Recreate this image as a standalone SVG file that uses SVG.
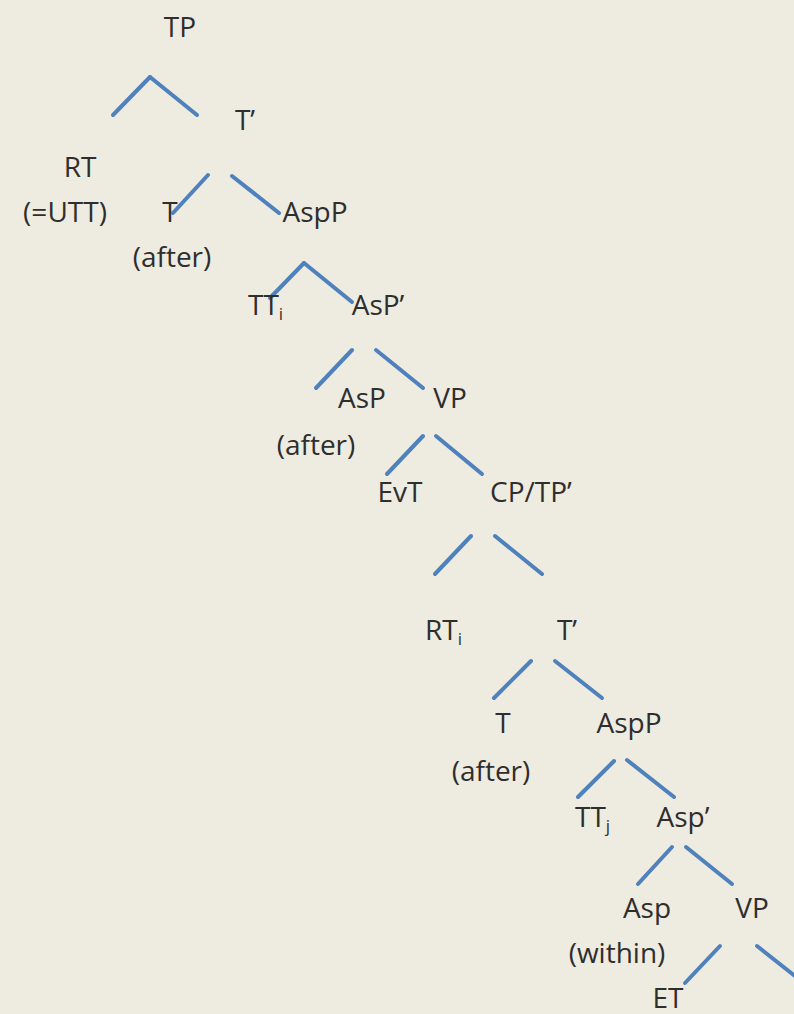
<svg xmlns="http://www.w3.org/2000/svg" width="794" height="1014" viewBox="0 0 794 1014">
<style>
text{font-family:"Open Sans","Liberation Sans",sans-serif;font-size:28px;fill:#2e2e2e;text-anchor:middle}
text.s{text-anchor:start}
tspan.sub{font-size:17px}
.e line{stroke:#4f81bd;stroke-width:4;stroke-linecap:round}
</style>
<rect width="794" height="1014" fill="#eeebe0"/>
<g class="e" id="edges">
<line x1="113" y1="115" x2="150" y2="77"/>
<line x1="150" y1="77" x2="197" y2="115"/>
<line x1="208" y1="175" x2="173" y2="213"/>
<line x1="232" y1="176" x2="279" y2="213"/>
<line x1="304" y1="263" x2="270" y2="298"/>
<line x1="304" y1="263" x2="352" y2="302"/>
<line x1="352" y1="350" x2="316" y2="388"/>
<line x1="376" y1="350" x2="423" y2="388"/>
<line x1="423" y1="436" x2="387" y2="474"/>
<line x1="436" y1="436" x2="482" y2="474"/>
<line x1="471" y1="536" x2="435" y2="574"/>
<line x1="495" y1="536" x2="542" y2="574"/>
<line x1="531" y1="661" x2="494" y2="698"/>
<line x1="555" y1="661" x2="602" y2="698"/>
<line x1="614" y1="761" x2="578" y2="797"/>
<line x1="627" y1="760" x2="674" y2="797"/>
<line x1="672" y1="847" x2="638" y2="884"/>
<line x1="686" y1="847" x2="732" y2="884"/>
<line x1="720" y1="946" x2="685" y2="983"/>
<line x1="757" y1="946" x2="810" y2="988"/>
</g>
<g id="n-TP"><text x="180" y="37">TP</text></g>
<g id="n-T1"><text x="245" y="130">T’</text></g>
<g id="n-RT"><text x="80" y="177">RT</text><text x="65" y="222">(=UTT)</text></g>
<g id="n-T2"><text x="170" y="222">T</text><text x="172" y="267">(after)</text></g>
<g id="n-AspP1"><text x="315" y="222">AspP</text></g>
<g id="n-TTi"><text class="s" x="248" y="315">TT<tspan class="sub" dy="5">i</tspan></text></g>
<g id="n-AsP1"><text x="378" y="315">AsP’</text></g>
<g id="n-AsP2"><text x="362" y="408">AsP</text><text x="316" y="455">(after)</text></g>
<g id="n-VP1"><text x="450" y="408">VP</text></g>
<g id="n-EvT"><text x="400" y="502">EvT</text></g>
<g id="n-CPTP"><text x="531" y="502">CP/TP’</text></g>
<g id="n-RTi"><text class="s" x="425" y="640">RT<tspan class="sub" dy="5">i</tspan></text></g>
<g id="n-T3"><text x="567" y="640">T’</text></g>
<g id="n-T4"><text x="503" y="733">T</text><text x="491" y="781">(after)</text></g>
<g id="n-AspP2"><text x="629" y="733">AspP</text></g>
<g id="n-TTj"><text class="s" x="575" y="827">TT<tspan class="sub" dy="5">j</tspan></text></g>
<g id="n-Asp1"><text x="683" y="827">Asp’</text></g>
<g id="n-Asp2"><text x="647" y="918">Asp</text><text x="617" y="963">(within)</text></g>
<g id="n-VP2"><text x="752" y="918">VP</text></g>
<g id="n-ET"><text x="668" y="1008">ET</text></g>
</svg>
